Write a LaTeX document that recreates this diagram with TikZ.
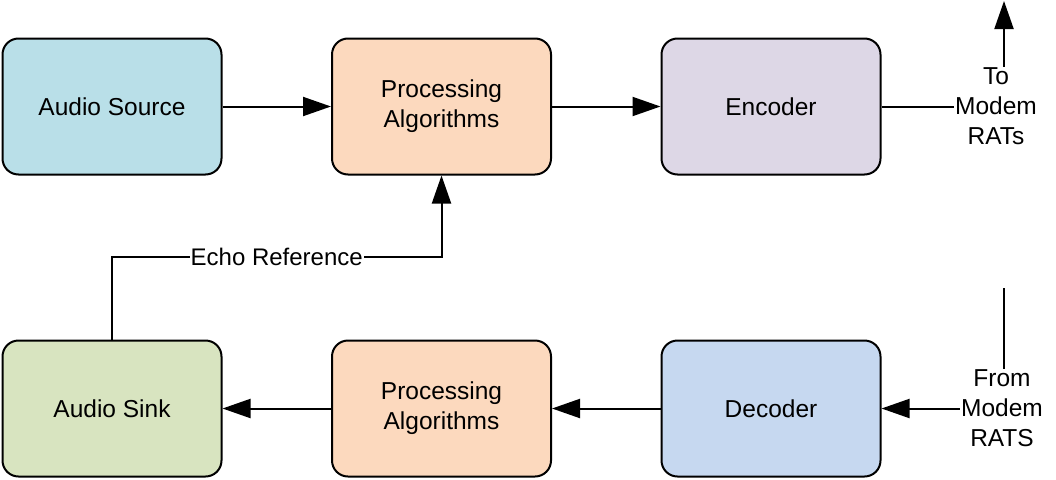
\documentclass[tikz,border=0pt]{standalone}
\usepackage{fontspec}
\setmainfont{Liberation Sans}
\usetikzlibrary{arrows.meta}
\definecolor{srcblue}{RGB}{185,223,232}
\definecolor{procpeach}{RGB}{252,217,190}
\definecolor{enclilac}{RGB}{221,215,230}
\definecolor{sinkgreen}{RGB}{216,228,192}
\definecolor{decblue}{RGB}{198,216,240}
\tikzset{
  block/.style={draw=black, line width=2pt, rounded corners=16pt, minimum width=219pt, minimum height=136pt, align=center, font=\fontsize{24.5}{30}\selectfont},
  arr/.style={line width=2pt, -{Triangle[length=28pt,width=19pt]}},
  ln/.style={line width=2pt},
  side/.style={align=center, inner sep=1pt, font=\fontsize{24.5}{30}\selectfont}
}

\begin{document}
\begin{tikzpicture}[x=1pt, y=-1pt]
			%%%%% START %%%%%
			\useasboundingbox (0, 0) rectangle (1056, 479);
			
			\node[block, fill=srcblue] (source) at (112, 106.5) {Audio Source};
			\node[block, fill=procpeach] (procup) at (441.5, 106.5) {Processing\\Algorithms};
			\node[block, fill=enclilac] (encoder) at (771, 106.5) {Encoder};
			
			\node[block, fill=sinkgreen] (sink) at (112, 408.5) {Audio Sink};
			\node[block, fill=procpeach] (procdown) at (441.5, 408.5) {Processing\\Algorithms};
			\node[block, fill=decblue] (decoder) at (771, 408.5) {Decoder};
			
			\node[side] (tomodem) at (996, 106.5) {To\\Modem\\RATs};
			\node[side] (frommodem) at (1002, 408.5) {From\\Modem\\RATS};
			\coordinate (upfoot) at ([xshift=8pt]tomodem.north);
			\coordinate (uptop) at (upfoot |- 0, 1);
			\coordinate (downfoot) at ([xshift=2pt]frommodem.north);
			\coordinate (downtop) at (downfoot |- 0, 288);
			
			\draw[arr] (source) -- (procup);
			\draw[arr] (procup) -- (encoder);
			\draw[ln] (encoder) -- (tomodem);
			\draw[arr] (upfoot) -- (uptop);
			
			\draw[ln] (downtop) -- (downfoot);
			\draw[arr] (frommodem) -- (decoder);
			\draw[arr] (decoder) -- (procdown);
			\draw[arr] (procdown) -- (sink);
			
			\draw[arr] (sink.north) -- (sink.north |- 0, 257) -- node[fill=white, inner sep=1pt, font=\fontsize{24}{28}\selectfont] {Echo Reference} (procup.south |- 0, 257) -- (procup.south);
			
			%%%%% END %%%%%
\end{tikzpicture}
\end{document}
